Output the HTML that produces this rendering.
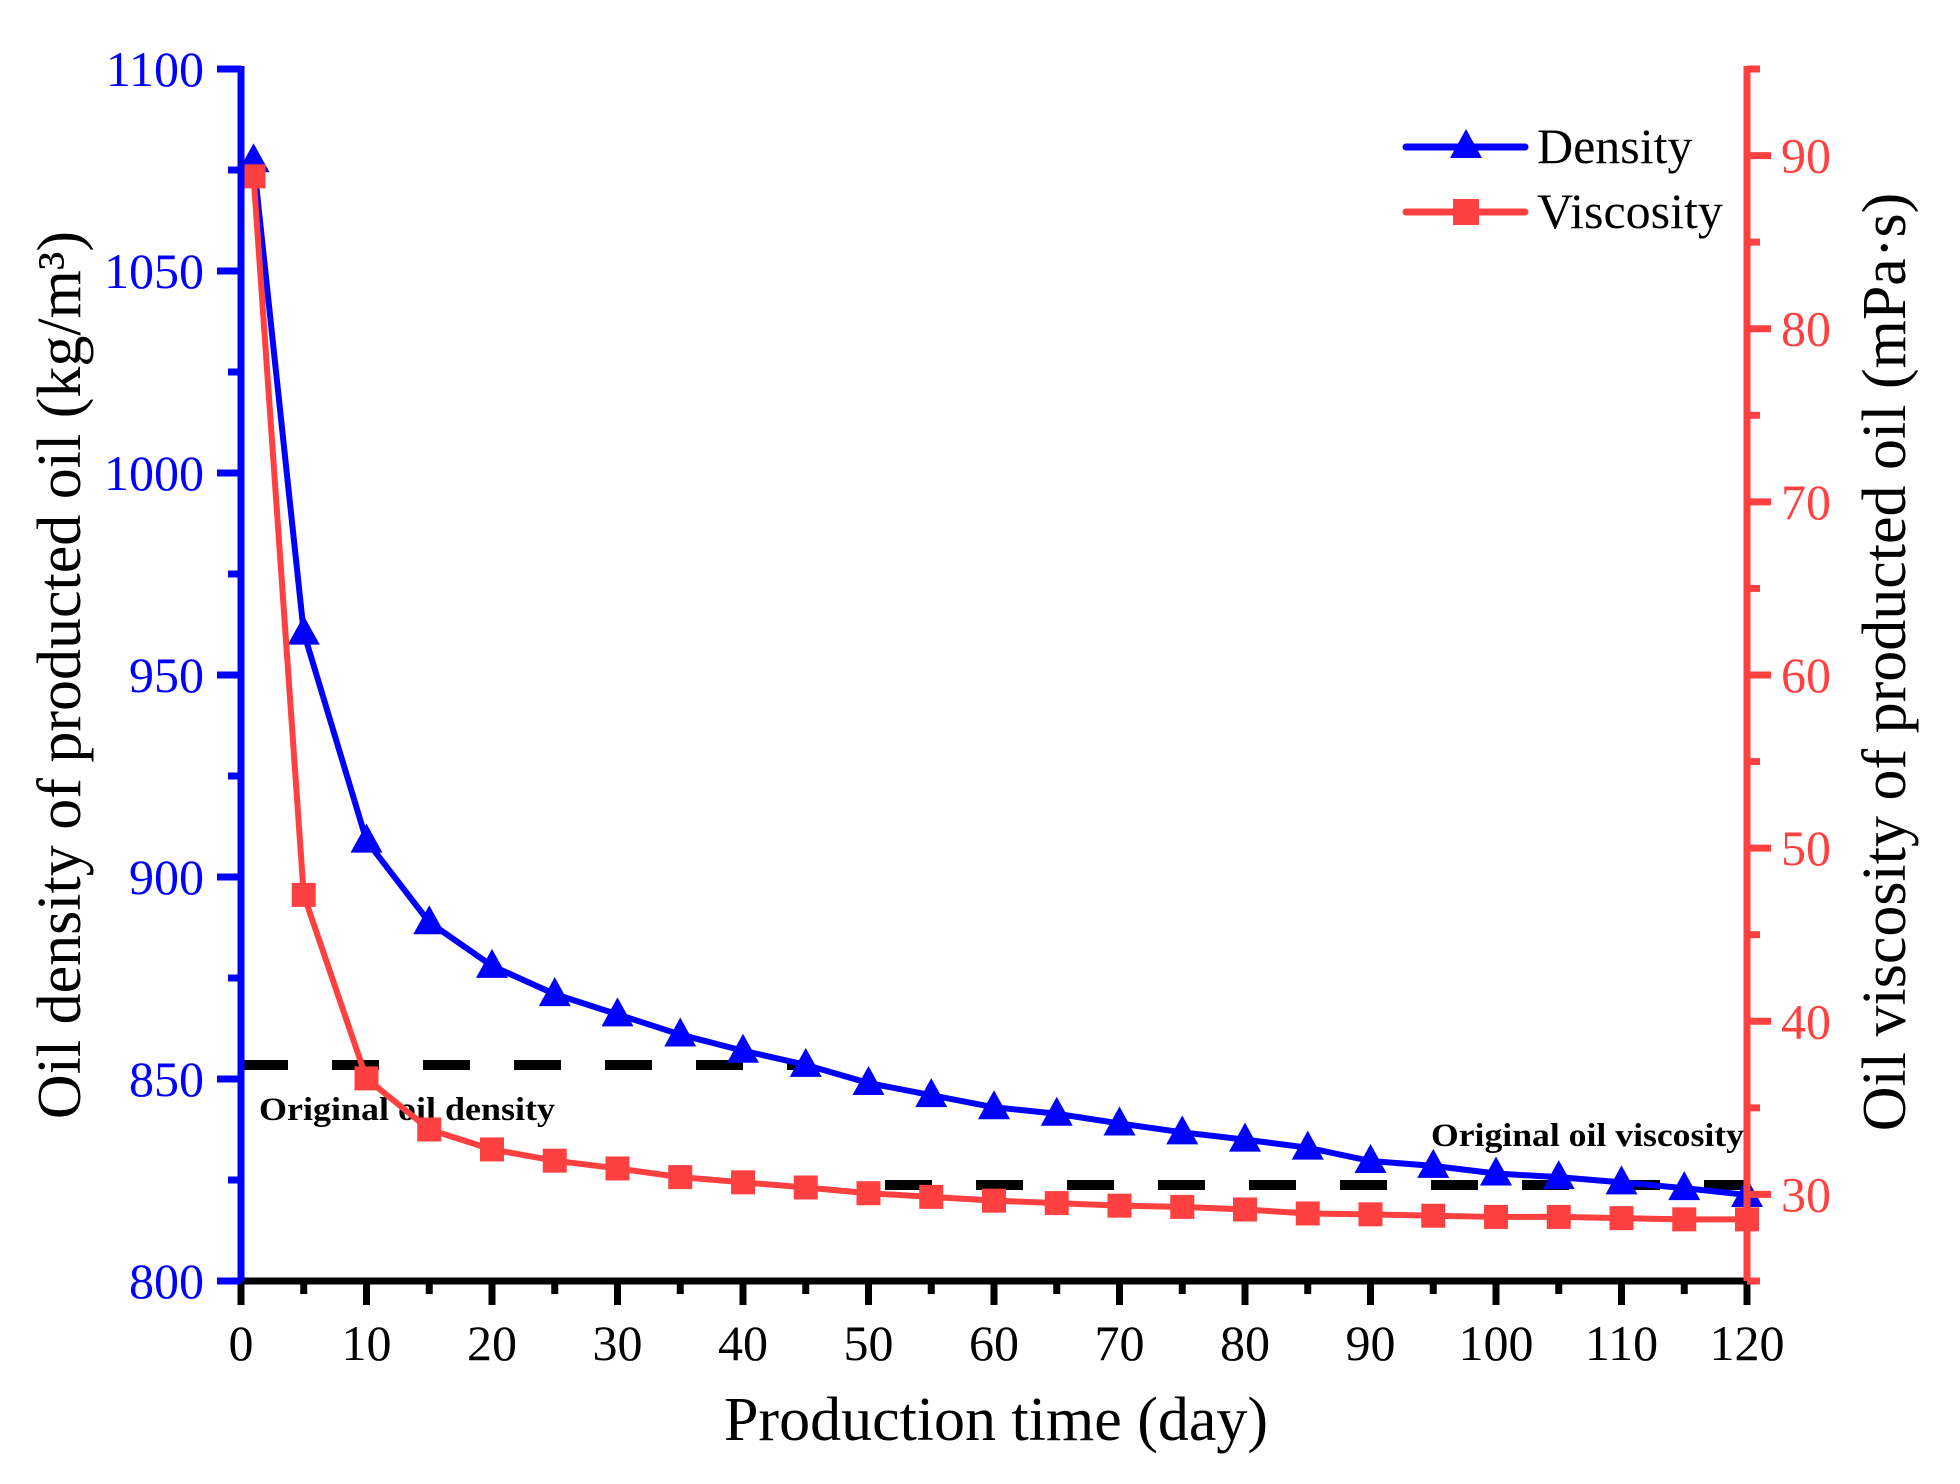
<!DOCTYPE html>
<html><head><meta charset="utf-8"><style>
html,body{margin:0;padding:0;background:#fff;}
svg{display:block;font-family:"Liberation Serif",serif;}
</style></head><body>
<svg id="s" width="1960" height="1484" viewBox="0 0 1960 1484" xmlns="http://www.w3.org/2000/svg"></svg>
<script>
const s=document.getElementById('s');
const X0=241,X1=1747,YB=1281,YT=69;
const px=d=>X0+d*(X1-X0)/120;
const yl=v=>YB-(v-800)*(YB-YT)/300;
const yr=v=>YB-(v-25)*(YB-YT)/70;
let h='';
h+=`<line x1="${X0}" y1="1065" x2="800" y2="1065" stroke="#000" stroke-width="10" stroke-dasharray="47 44"/>`;
h+=`<line x1="885" y1="1185" x2="${X1}" y2="1185" stroke="#000" stroke-width="10" stroke-dasharray="47 44"/>`;
h+=`<text x="259" y="1120" font-size="33" font-weight="bold" textLength="296" lengthAdjust="spacingAndGlyphs">Original oil density</text>`;
h+=`<text x="1431" y="1146" font-size="33" font-weight="bold" textLength="313" lengthAdjust="spacingAndGlyphs">Original oil viscosity</text>`;
const days=[1,5,10,15,20,25,30,35,40,45,50,55,60,65,70,75,80,85,90,95,100,105,110,115,120];
const dens=[1077.4,960.5,909,888.8,878,871,866,861,857,853.5,849,846,843,841.4,839,836.8,835,833,829.7,828.5,826.6,825.7,824.4,823,821.3];
const visc=[88.8,47.3,36.7,33.75,32.6,31.95,31.5,31.0,30.7,30.4,30.07,29.86,29.64,29.5,29.35,29.28,29.13,28.9,28.85,28.77,28.7,28.7,28.63,28.56,28.56];
h+=`<polyline fill="none" stroke="#0000ff" stroke-width="6" points="${days.map((d,i)=>px(d)+','+yl(dens[i])).join(' ')}"/>`;
days.forEach((d,i)=>{const x=px(d),y=yl(dens[i]);h+=`<polygon fill="#0000ff" points="${x},${y-17} ${x-16},${y+12} ${x+16},${y+12}"/>`;});
h+=`<polyline fill="none" stroke="#ff4040" stroke-width="6" points="${days.map((d,i)=>px(d)+','+yr(visc[i])).join(' ')}"/>`;
days.forEach((d,i)=>{const x=px(d),y=yr(visc[i]);h+=`<rect fill="#ff4040" x="${x-12}" y="${y-12}" width="24" height="24"/>`;});
h+=`<line x1="${X0}" y1="${YB}" x2="${X1}" y2="${YB}" stroke="#000" stroke-width="7"/>`;
h+=`<line x1="${X0}" y1="${YT-3}" x2="${X0}" y2="${YB+3}" stroke="#0000ff" stroke-width="7"/>`;
h+=`<line x1="${X1}" y1="${YT-3}" x2="${X1}" y2="${YB+3}" stroke="#ff4040" stroke-width="7"/>`;
for(let d=0;d<=120;d+=5){const x=px(d),maj=d%10==0;h+=`<line x1="${x}" y1="${YB}" x2="${x}" y2="${YB+(maj?24:13)}" stroke="#000" stroke-width="7"/>`;
 if(maj)h+=`<text x="${x}" y="1360" font-size="50" text-anchor="middle">${d}</text>`;}
for(let v=800;v<=1100;v+=25){const y=yl(v),maj=v%50==0;h+=`<line x1="${X0}" y1="${y}" x2="${X0-(maj?24:13)}" y2="${y}" stroke="#0000ff" stroke-width="7"/>`;
 if(maj)h+=`<text x="204" y="${y+17}" font-size="50" fill="#0000ff" text-anchor="end">${v}</text>`;}
for(let v=25;v<=95;v+=5){const y=yr(v),maj=v%10==0;h+=`<line x1="${X1}" y1="${y}" x2="${X1+(maj?24:13)}" y2="${y}" stroke="#ff4040" stroke-width="7"/>`;
 if(maj)h+=`<text x="1781" y="${y+17}" font-size="50" fill="#ff4040">${v}</text>`;}
h+=`<text x="996" y="1440" font-size="62" text-anchor="middle">Production time (day)</text>`;
h+=`<text transform="translate(80,675) rotate(-90)" font-size="62" text-anchor="middle">Oil density of producted oil (kg/m³)</text>`;
h+=`<text transform="translate(1905,662) rotate(-90)" font-size="62" text-anchor="middle">Oil viscosity of producted oil (mPa·s)</text>`;
h+=`<line x1="1406" y1="147" x2="1525" y2="147" stroke="#0000ff" stroke-width="7" stroke-linecap="round"/>`;
h+=`<polygon fill="#0000ff" points="1466,129 1450,158 1482,158"/>`;
h+=`<text x="1537" y="163" font-size="50">Density</text>`;
h+=`<line x1="1406" y1="212" x2="1525" y2="212" stroke="#ff4040" stroke-width="7" stroke-linecap="round"/>`;
h+=`<rect fill="#ff4040" x="1453" y="199" width="26" height="26"/>`;
h+=`<text x="1537" y="228" font-size="50">Viscosity</text>`;
s.innerHTML=h;
</script>
</body></html>
